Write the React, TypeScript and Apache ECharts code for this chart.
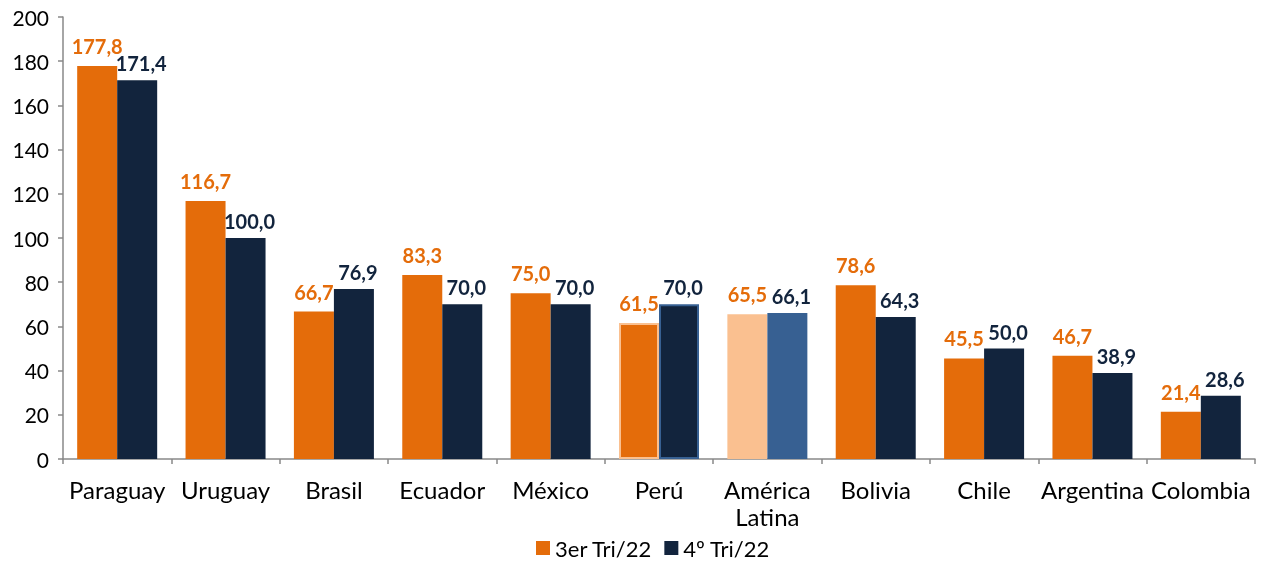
import React, { useEffect, useRef } from "react";
import * as echarts from "echarts";

const categories = ["Paraguay", "Uruguay", "Brasil", "Ecuador", "México", "Perú", "América\nLatina", "Bolivia", "Chile", "Argentina", "Colombia"];
const tri3 = [177.8, 116.7, 66.7, 83.3, 75.0, 61.5, 65.5, 78.6, 45.5, 46.7, 21.4];
const tri4 = [171.4, 100.0, 76.9, 70.0, 70.0, 70.0, 66.1, 64.3, 50.0, 38.9, 28.6];
const seriesNames = ["3er Tri/22", "4º Tri/22"];
const yTicks = [0, 20, 40, 60, 80, 100, 120, 140, 160, 180, 200];

const ORANGE = "#E46C0A";
const NAVY = "#12243D";
const LIGHT_ORANGE = "#FAC090";
const BLUE = "#376092";
const FONT = "Lato, 'Open Sans', sans-serif";

const fmt = (v: number) => v.toFixed(1).replace(".", ",");

export default function App() {
  const ref = useRef<HTMLDivElement>(null);
  useEffect(() => {
    if (!ref.current) return;
    const chart = echarts.init(ref.current, null, { renderer: "svg" });
    const latIdx = 6;
    const peruIdx = 5;
    const d3 = tri3.map((v, i) => {
      if (i === latIdx) return { value: v, itemStyle: { color: LIGHT_ORANGE } };
      if (i === peruIdx) return { value: v, itemStyle: { color: ORANGE, borderColor: LIGHT_ORANGE, borderWidth: 2 } };
      return v;
    });
    const d4 = tri4.map((v, i) => {
      if (i === latIdx) return { value: v, itemStyle: { color: BLUE } };
      if (i === peruIdx) return { value: v, itemStyle: { color: NAVY, borderColor: BLUE, borderWidth: 2 } };
      return v;
    });
    const labelCfg = (color: string, dx: number, dist: number) => ({
      show: true,
      position: "top",
      distance: dist,
      offset: [dx, 0],
      color,
      fontWeight: "bold",
      fontSize: 20,
      fontFamily: FONT,
      formatter: (p: any) => fmt(p.value),
    });
    chart.setOption({
      animation: false,
      textStyle: { fontFamily: FONT },
      legend: {
        bottom: 2,
        left: 531,
        itemWidth: 14,
        itemHeight: 14,
        itemGap: 12,
        icon: "rect",
        textStyle: { fontSize: 22, color: "#000", fontFamily: FONT },
        data: seriesNames,
      },
      grid: { left: 63, right: 8, top: 17, bottom: 107, containLabel: false },
      xAxis: {
        type: "category",
        data: categories,
        axisLine: { lineStyle: { color: "#898989", width: 1.5 } },
        axisTick: { show: true, alignWithLabel: false, length: 5, inside: false, lineStyle: { color: "#898989", width: 1.5 } },
        axisLabel: { fontSize: 24, color: "#000", margin: 17, lineHeight: 27, interval: 0, fontFamily: FONT },
      },
      yAxis: {
        type: "value",
        min: 0,
        max: 200,
        interval: 20,
        splitLine: { show: false },
        axisLine: { show: true, lineStyle: { color: "#898989", width: 1.5 } },
        axisTick: { show: true, length: 5, lineStyle: { color: "#898989", width: 1.5 } },
        axisLabel: {
          fontSize: 21,
          color: "#000",
          margin: 14,
          fontFamily: FONT,
          formatter: (v: number) => (yTicks.includes(v) ? String(v) : ""),
        },
      },
      series: [
        {
          name: seriesNames[0],
          type: "bar",
          data: d3,
          barWidth: 40,
          barGap: "0%",
          itemStyle: { color: ORANGE },
          label: labelCfg(ORANGE, 0, 10),
        },
        {
          name: seriesNames[1],
          type: "bar",
          data: d4,
          barWidth: 40,
          itemStyle: { color: NAVY },
          label: labelCfg(NAVY, 4, 7),
        },
      ],
    });
    return () => chart.dispose();
  }, []);
  return <div ref={ref} style={{ position: "fixed", left: 0, top: 0, width: 1263, height: 566 }} />;
}
